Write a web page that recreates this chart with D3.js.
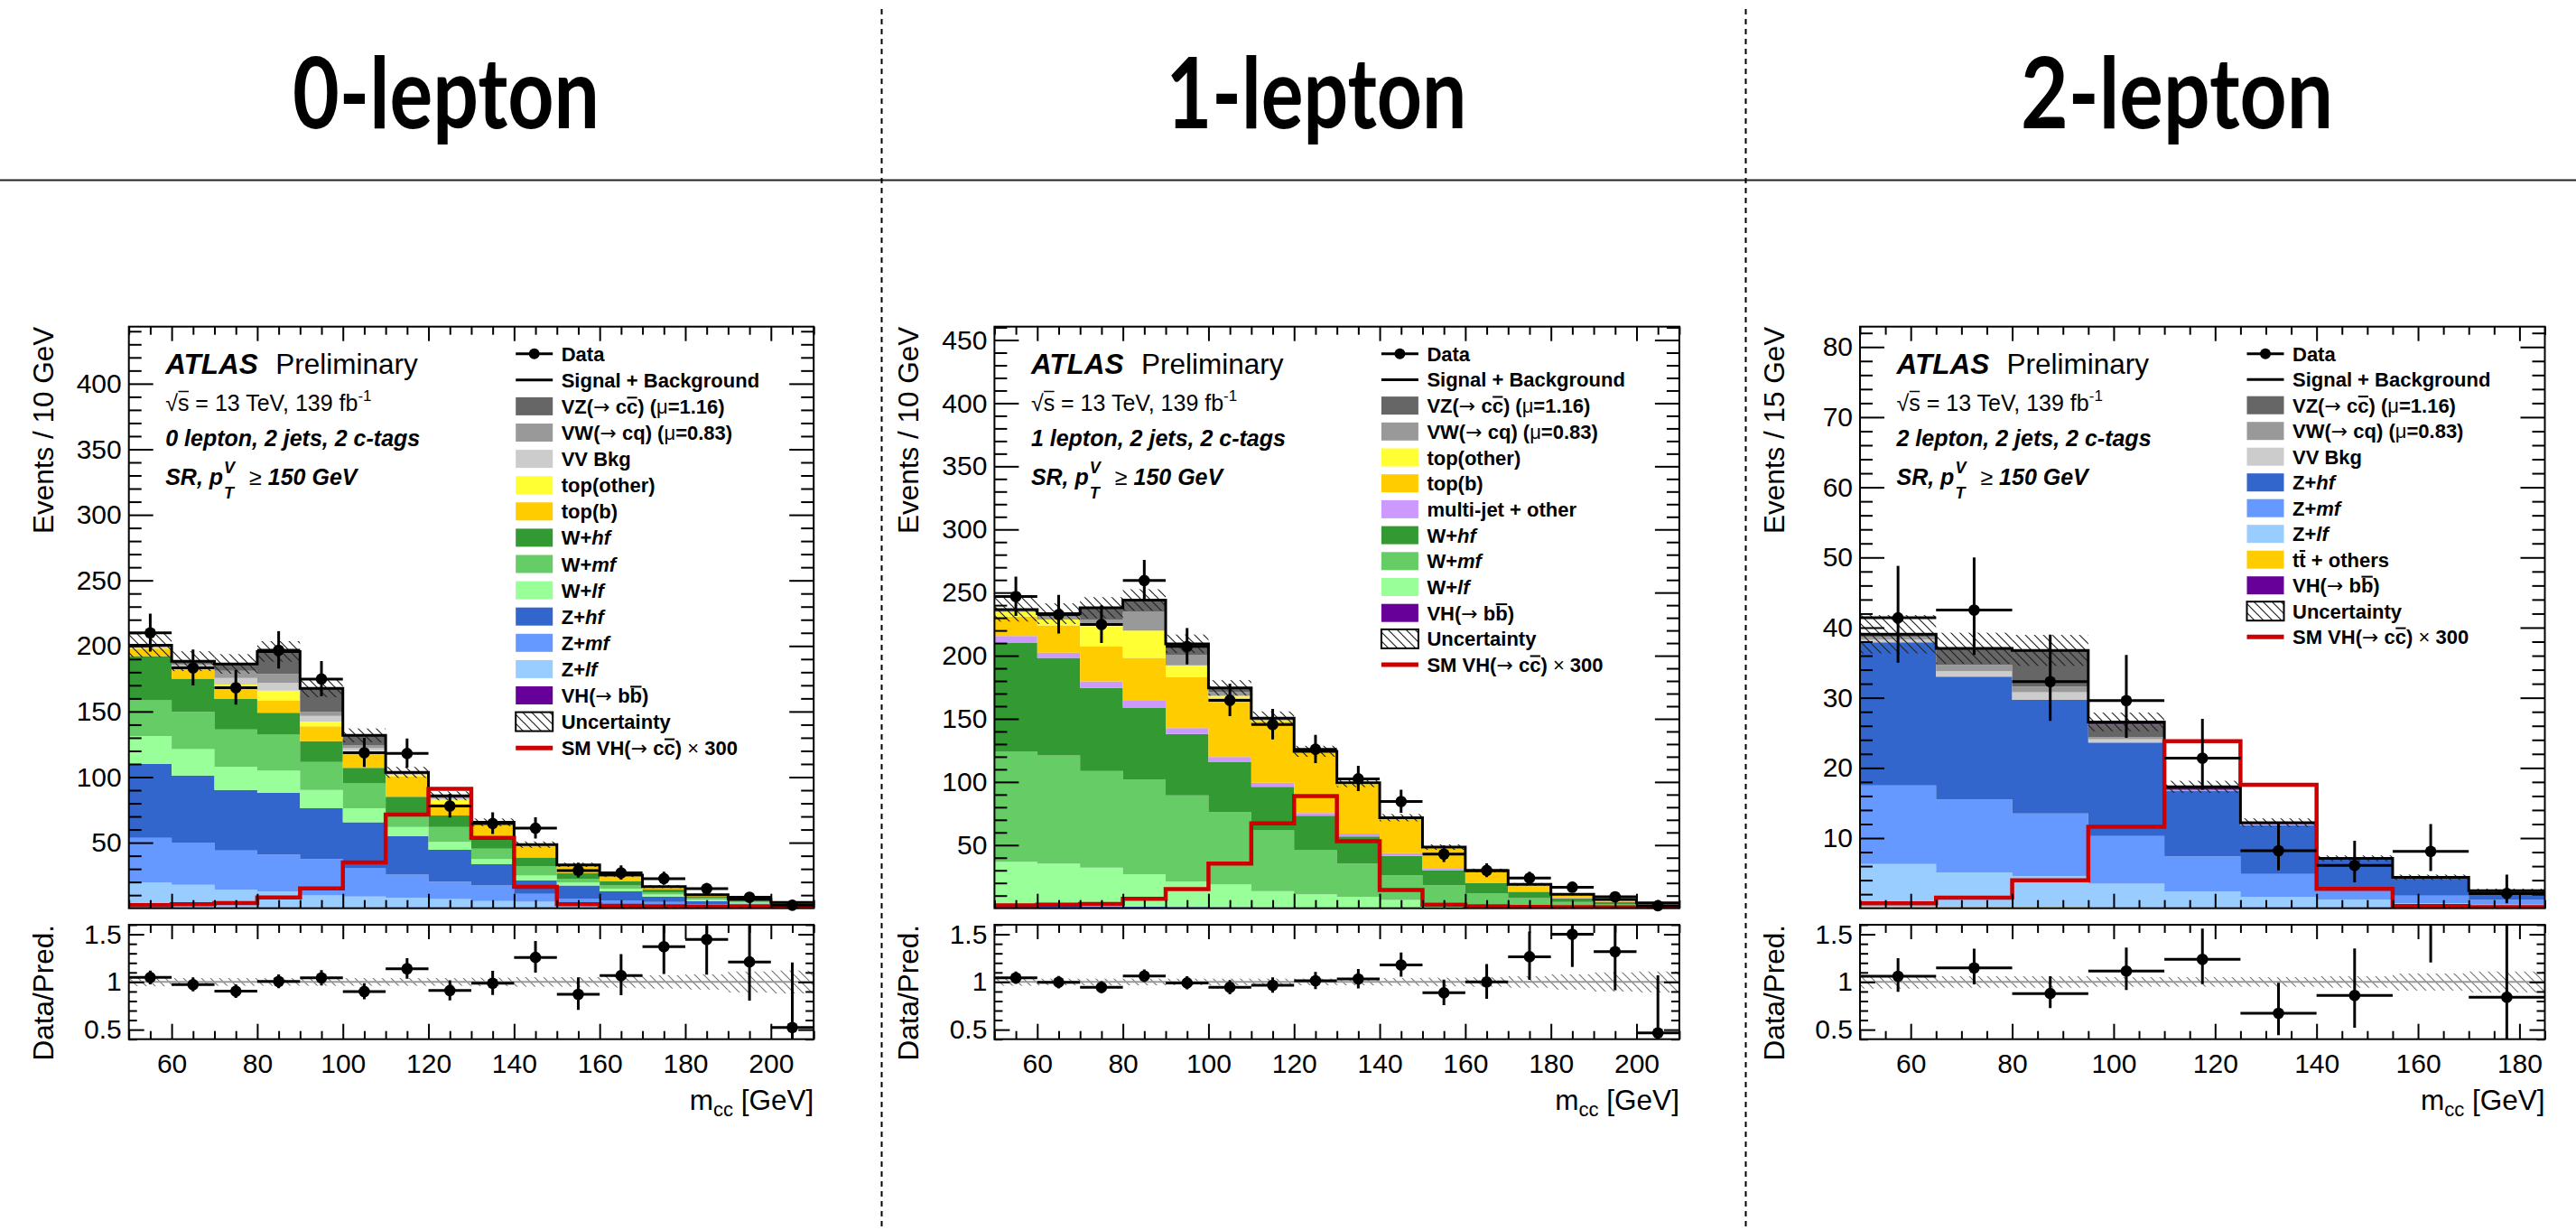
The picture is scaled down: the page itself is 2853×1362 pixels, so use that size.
<!DOCTYPE html>
<html>
<head>
<meta charset="utf-8">
<script src="https://cdn.jsdelivr.net/npm/d3@7"></script>
<style>
  html, body { margin: 0; padding: 0; background: #fff; }
  svg { display: block; }
</style>
</head>
<body>
<svg id="fig" width="2853" height="1362"></svg>
<script>
// ------------------------------------------------------------------
// Data: VH(->cc) m_cc distributions in the three lepton channels
// ------------------------------------------------------------------
const channelTitles = ["0-lepton", "1-lepton", "2-lepton"];
const yTitles = ["Events / 10 GeV", "Events / 10 GeV", "Events / 15 GeV"];
const regionLabels = ["0 lepton, 2 jets, 2 c-tags", "1 lepton, 2 jets, 2 c-tags", "2 lepton, 2 jets, 2 c-tags"];

// bin edges [GeV]
const edges0 = [50, 60, 70, 80, 90, 100, 110, 120, 130, 140, 150, 160, 170, 180, 190, 200, 210];
const edges1 = [50, 60, 70, 80, 90, 100, 110, 120, 130, 140, 150, 160, 170, 180, 190, 200, 210];
const edges2 = [50, 65, 80, 95, 110, 125, 140, 155, 170, 185];

// tick labels
const xTicks01 = [60, 80, 100, 120, 140, 160, 180, 200];
const xTicks2 = [60, 80, 100, 120, 140, 160, 180];
const yTicks0 = [50, 100, 150, 200, 250, 300, 350, 400];
const yTicks1 = [50, 100, 150, 200, 250, 300, 350, 400, 450];
const yTicks2 = [10, 20, 30, 40, 50, 60, 70, 80];
const ratioTicks = [0.5, 1, 1.5];

// ---- 0-lepton: background components (events per bin) ----
const zlf0   = [19.6, 17.9, 14.3, 12.8, 9.8, 9.0, 8.0, 7.0, 5.5, 4.9, 3.9, 3.0, 2.4, 1.5, 1.0, 0.6];
const zmf0   = [34.0, 32.1, 29.7, 28.2, 27.7, 21.7, 17.6, 13.2, 11.8, 6.0, 3.5, 3.0, 2.4, 1.5, 1.0, 0.6];
const zhf0   = [56.5, 51.2, 46.2, 47.1, 38.7, 34.8, 29.5, 24.4, 16.3, 10.5, 9.9, 6.8, 4.1, 2.5, 1.5, 1.0];
const wlf0   = [21.2, 20.2, 17.8, 16.9, 14.0, 10.7, 6.9, 6.0, 3.9, 3.5, 2.3, 2.1, 1.5, 1.0, 0.7, 0.5];
const wmf0   = [27.3, 28.3, 28.3, 27.4, 21.4, 19.0, 9.0, 11.3, 8.0, 7.2, 3.0, 2.4, 1.8, 1.2, 0.8, 0.5];
const whf0   = [33.7, 25.3, 23.2, 16.7, 15.8, 11.9, 14.1, 8.9, 7.5, 6.6, 4.2, 3.5, 2.0, 1.2, 1.0, 0.6];
const topb0  = [5.6, 8.0, 8.7, 9.5, 11.3, 11.4, 15.5, 9.0, 10.4, 8.9, 5.3, 3.5, 1.6, 0.9, 0.6, 0.4];
const topo0  = [0.4, 0.8, 2.3, 7.4, 3.6, 1.5, 1.0, 2.9, 0.9, 0.3, 0.3, 0.3, 0.2, 0.1, 0.1, 0.05];
const vv0    = [0.7, 1.5, 5.1, 6.0, 4.4, 2.0, 0.4, 0.9, 0.4, 0.2, 0.2, 0.2, 0.15, 0.1, 0.05, 0.05];
const vw0    = [0.6, 1.2, 5.4, 6.6, 3.0, 2.4, 0.4, 0.7, 0.3, 0.1, 0.2, 0.2, 0.15, 0.1, 0.05, 0.05];
const vz0    = [0.8, 1.7, 5.1, 17.0, 17.6, 7.0, 0.2, 0.6, 0.2, 0.1, 0.2, 0.2, 0.1, 0.1, 0.05, 0.05];
const vhbb0  = [0.1, 0.2, 0.2, 0.2, 0.3, 0.4, 1.0, 0.8, 0.3, 0.2, 0.1, 0.1, 0.1, 0.1, 0.05, 0.0];
const data0  = [210, 183.3, 168.2, 196.8, 174.8, 118.6, 118, 78, 64.6, 61, 28.8, 27.0, 22.6, 14.9, 8.35, 2.3];
const errUp0 = [14.6, 14.0, 13.5, 14.5, 13.7, 11.4, 11.4, 9.3, 8.5, 8.3, 5.9, 5.7, 5.3, 4.4, 3.4, 3.0];
const errDn0 = [14.3, 13.4, 12.9, 14.0, 13.2, 10.8, 10.8, 8.8, 8.0, 7.8, 5.4, 5.2, 4.7, 3.8, 2.8, 1.5];
const unc0   = [0.045, 0.04, 0.04, 0.04, 0.04, 0.04, 0.04, 0.04, 0.045, 0.05, 0.05, 0.06, 0.07, 0.08, 0.11, 0.12];
const sig0   = [2.4, 3.0, 3.9, 8.3, 15.2, 35.0, 71.4, 91.0, 53.6, 16.4, 3.0, 1.8, 1.5, 1.2, 1.0, 0.8];

// ---- 1-lepton ----
const zjets1 = [2.0, 1.8, 1.5, 1.3, 1.0, 0.8, 0.6, 0.5, 0.4, 0.3, 0.2, 0.1, 0.1, 0.05, 0.05, 0.05];
const wlf1   = [34.8, 33.5, 30.7, 25.6, 20.3, 18.1, 13.0, 10.6, 8.6, 6.2, 4.1, 2.7, 2.1, 1.45, 0.95, 0.55];
const wmf1   = [87.5, 85.7, 76.4, 74.9, 68.1, 57.5, 48.0, 34.9, 26.3, 19.5, 13.9, 9.2, 5.8, 3.5, 2.0, 1.3];
const whf1   = [85.7, 77.3, 65.9, 57.2, 48.6, 39.3, 34.6, 27.3, 21.6, 15.4, 11.8, 7.8, 4.7, 2.8, 1.8, 1.1];
const mj1    = [5.6, 4.0, 5.2, 5.2, 4.6, 4.0, 3.1, 2.2, 2.2, 2.2, 1.2, 0.6, 0.6, 0.4, 0.3, 0.2];
const topb1  = [15.4, 21.7, 27.8, 34.1, 40.2, 47.0, 48.9, 47.3, 38.9, 27.2, 16.4, 8.7, 4.9, 2.5, 1.5, 0.9];
const topo1  = [3.8, 4.6, 18.0, 21.6, 9.6, 1.6, 0.6, 0.4, 0.5, 0.3, 0.3, 0.3, 0.2, 0.15, 0.1, 0.1];
const vw1    = [1.0, 2.4, 3.1, 14.9, 8.3, 3.1, 0.8, 0.3, 0.3, 0.2, 0.2, 0.2, 0.2, 0.1, 0.1, 0.05];
const vz1    = [0.6, 2.2, 9.3, 9.2, 8.6, 2.8, 0.5, 0.3, 0.3, 0.2, 0.2, 0.2, 0.2, 0.1, 0.1, 0.05];
const vhbb1  = [0.1, 0.1, 0.1, 0.1, 0.1, 0.3, 0.5, 0.5, 0.3, 0.2, 0.1, 0.1, 0.1, 0.05, 0.0, 0.0];
const data1  = [246.9, 232.6, 224.7, 259.5, 207.3, 164.7, 145.5, 125.9, 102.5, 84.5, 42.9, 29.9, 23.9, 16.65, 9.1, 2.0];
const errUp1 = [15.8, 15.5, 15.2, 16.4, 14.6, 13.1, 12.3, 11.4, 10.3, 9.4, 6.7, 5.6, 5.0, 4.2, 3.4, 2.6];
const errDn1 = [15.4, 15.0, 14.7, 15.8, 14.2, 12.6, 11.8, 10.9, 9.8, 8.9, 6.3, 5.3, 4.6, 3.8, 2.8, 1.3];
const unc1   = [0.04, 0.035, 0.035, 0.035, 0.035, 0.035, 0.035, 0.035, 0.035, 0.04, 0.045, 0.05, 0.06, 0.08, 0.10, 0.11];
const sig1   = [2.2, 2.8, 3.4, 7.4, 15.2, 35.3, 67.2, 88.9, 53.0, 14.5, 2.8, 1.5, 1.0, 0.8, 0.6, 0.5];

// ---- 2-lepton ----
const tt2    = [0.15, 0.15, 0.15, 0.1, 0.05, 0.05, 0.05, 0.05, 0.02];
const zlf2   = [6.15, 4.95, 4.45, 3.4, 2.35, 1.55, 1.2, 0.65, 0.48];
const zmf2   = [11.2, 10.4, 8.9, 6.8, 5.0, 3.3, 1.65, 1.1, 0.7];
const zhf2   = [20.4, 17.5, 16.2, 13.3, 9.35, 6.9, 4.0, 2.5, 1.2];
const vv2    = [0.4, 0.8, 1.1, 0.5, 0.05, 0.1, 0.05, 0.03, 0.03];
const vw2    = [0.4, 0.9, 0.8, 0.3, 0.05, 0.05, 0.05, 0.03, 0.03];
const vz2    = [0.3, 2.3, 5.1, 1.8, 0.05, 0.05, 0.05, 0.03, 0.03];
const vhbb2  = [0.05, 0.05, 0.05, 0.35, 0.4, 0.2, 0.05, 0.01, 0.01];
const data2  = [41.4, 42.5, 32.3, 29.6, 21.4, 8.2, 6.1, 8.1, 2.1];
const errUp2 = [7.4, 7.5, 6.7, 6.5, 5.6, 3.9, 3.5, 3.9, 2.7];
const errDn2 = [6.4, 6.4, 5.6, 5.3, 4.5, 2.8, 2.4, 2.8, 1.4];
const unc2   = [0.07, 0.06, 0.06, 0.05, 0.05, 0.05, 0.06, 0.09, 0.11];
const sig2   = [0.7, 1.5, 4.0, 11.6, 23.8, 17.6, 2.75, 0.3, 0.15];

// ------------------------------------------------------------------
// Styles
// ------------------------------------------------------------------
const colors = {
  VZ: "#666666", VW: "#999999", VV: "#cccccc",
  topOther: "#ffff33", topB: "#ffcc00", ttbar: "#ffcc00",
  Whf: "#339933", Wmf: "#66cc66", Wlf: "#99ff99",
  Zhf: "#3366cc", Zmf: "#6699ff", Zlf: "#99ccff", Zjets: "#3366cc",
  multijet: "#cc99ff", VHbb: "#660099", signal: "#cc0000"
};
const FONT = "'Liberation Sans', Arial, Helvetica, sans-serif";
const SYMBOL_FONT = "'DejaVu Sans', 'Liberation Sans', sans-serif";

// legend labels: [text, style]  style: b=bold (default), i=bold italic, n=normal, a=arrow, o=bold with bar
const lbl = {
  data: [["Data"]],
  sb: [["Signal + Background"]],
  VZ: [["VZ("], ["\u2192", "a"], [" c"], ["c", "o"], [") ("], ["\u03bc", "n"], ["=1.16)"]],
  VW: [["VW("], ["\u2192", "a"], [" cq) ("], ["\u03bc", "n"], ["=0.83)"]],
  VV: [["VV Bkg"]],
  topOther: [["top(other)"]],
  topB: [["top(b)"]],
  multijet: [["multi-jet + other"]],
  Whf: [["W+"], ["hf", "i"]],
  Wmf: [["W+"], ["mf", "i"]],
  Wlf: [["W+"], ["lf", "i"]],
  Zhf: [["Z+"], ["hf", "i"]],
  Zmf: [["Z+"], ["mf", "i"]],
  Zlf: [["Z+"], ["lf", "i"]],
  ttbar: [["t"], ["t", "o"], [" + others"]],
  VHbb: [["VH("], ["\u2192", "a"], [" b"], ["b", "o"], [")"]],
  unc: [["Uncertainty"]],
  sig: [["SM VH("], ["\u2192", "a"], [" c"], ["c", "o"], [") "], ["\u00d7", "n"], [" 300"]]
};

// ------------------------------------------------------------------
// Layout
// ------------------------------------------------------------------
const TOP = 361.7, MAIN_BOTTOM = 1005.7, RATIO_TOP = 1024, RATIO_BOTTOM = 1150.7;
const PANEL_W = 758.5;

const panels = [
  {
    left: 142.7, edges: edges0, yMax: 443.5, yTicks: yTicks0, yMinorStep: 10, xTicks: xTicks01,
    order: ["Zlf", "Zmf", "Zhf", "Wlf", "Wmf", "Whf", "topB", "topOther", "VV", "VW", "VZ", "VHbb"],
    series: { Zlf: zlf0, Zmf: zmf0, Zhf: zhf0, Wlf: wlf0, Wmf: wmf0, Whf: whf0, topB: topb0, topOther: topo0, VV: vv0, VW: vw0, VZ: vz0, VHbb: vhbb0 },
    data: data0, up: errUp0, dn: errDn0, unc: unc0, sig: sig0,
    legend: ["data", "sb", "VZ", "VW", "VV", "topOther", "topB", "Whf", "Wmf", "Wlf", "Zhf", "Zmf", "Zlf", "VHbb", "unc", "sig"],
    legendStep: 29.1
  },
  {
    left: 1101.4, edges: edges1, yMax: 460.6, yTicks: yTicks1, yMinorStep: 10, xTicks: xTicks01,
    order: ["Zjets", "Wlf", "Wmf", "Whf", "multijet", "topB", "topOther", "VW", "VZ", "VHbb"],
    series: { Zjets: zjets1, Wlf: wlf1, Wmf: wmf1, Whf: whf1, multijet: mj1, topB: topb1, topOther: topo1, VW: vw1, VZ: vz1, VHbb: vhbb1 },
    data: data1, up: errUp1, dn: errDn1, unc: unc1, sig: sig1,
    legend: ["data", "sb", "VZ", "VW", "topOther", "topB", "multijet", "Whf", "Wmf", "Wlf", "VHbb", "unc", "sig"],
    legendStep: 28.7
  },
  {
    left: 2060.0, edges: edges2, yMax: 82.9, yTicks: yTicks2, yMinorStep: 2, xTicks: xTicks2,
    order: ["ttbar", "Zlf", "Zmf", "Zhf", "VV", "VW", "VZ", "VHbb"],
    series: { ttbar: tt2, Zlf: zlf2, Zmf: zmf2, Zhf: zhf2, VV: vv2, VW: vw2, VZ: vz2, VHbb: vhbb2 },
    data: data2, up: errUp2, dn: errDn2, unc: unc2, sig: sig2,
    legend: ["data", "sb", "VZ", "VW", "VV", "Zhf", "Zmf", "Zlf", "ttbar", "VHbb", "unc", "sig"],
    legendStep: 28.5
  }
];

// ------------------------------------------------------------------
// Drawing
// ------------------------------------------------------------------
const svg = d3.select("#fig");
svg.append("rect").attr("width", 2853).attr("height", 1362).attr("fill", "#fff");
const defs = svg.append("defs");

function hatch(id, color, sw) {
  const p = defs.append("pattern").attr("id", id)
    .attr("patternUnits", "userSpaceOnUse").attr("width", 10).attr("height", 10);
  p.append("path").attr("d", "M-5,5 L5,15 M0,0 L10,10 M5,-5 L15,5")
    .attr("stroke", color).attr("stroke-width", sw).attr("fill", "none");
}
hatch("hatchMain", "#222", 1.2);
hatch("hatchRatio", "#777", 1.2);

// channel headers
const headerX = [494, 1458, 2411];
const headerW = [340, 333, 346];
svg.selectAll("text.hdr").data(channelTitles).join("text")
  .attr("class", "hdr")
  .attr("x", (d, i) => headerX[i]).attr("y", 142)
  .attr("text-anchor", "middle")
  .attr("font-family", "Lato, 'Noto Sans', sans-serif")
  .attr("font-weight", "bold")
  .attr("font-size", 110)
  .attr("textLength", (d, i) => headerW[i])
  .attr("lengthAdjust", "spacingAndGlyphs")
  .attr("fill", "#000")
  .text(d => d);

svg.append("line").attr("x1", 0).attr("x2", 2853).attr("y1", 199.5).attr("y2", 199.5)
  .attr("stroke", "#222").attr("stroke-width", 2);
[976.5, 1933.5].forEach(xx => {
  svg.append("line").attr("x1", xx).attr("x2", xx).attr("y1", 10).attr("y2", 1362)
    .attr("stroke", "#000").attr("stroke-width", 2).attr("stroke-dasharray", "6,5");
});

function stepPoints(edges, vals) {
  const pts = [];
  vals.forEach((v, i) => { pts.push([edges[i], v]); pts.push([edges[i + 1], v]); });
  return pts;
}

function styleAxis(g, labelSize) {
  g.attr("font-family", FONT).attr("font-size", labelSize || 30);
  g.select(".domain").remove();
  g.selectAll("line").attr("stroke", "#000").attr("stroke-width", 2);
  g.selectAll("text").attr("fill", "#000");
}

// bar drawn over a run of characters inside a text element
function overbar(parent, tspan, fs, lift, sw) {
  const n = tspan.node();
  const k = n.getNumberOfChars();
  if (!k) return;
  const a = n.getStartPositionOfChar(0), b = n.getEndPositionOfChar(k - 1);
  parent.append("line").attr("x1", a.x + 0.5).attr("x2", b.x - 0.5)
    .attr("y1", a.y - fs * lift).attr("y2", a.y - fs * lift)
    .attr("stroke", "#000").attr("stroke-width", sw);
}

function richText(parent, sel, parts, fs) {
  const bars = [];
  parts.forEach(([t, s]) => {
    const ts = sel.append("tspan").text(t);
    if (s === "n") ts.attr("font-weight", "normal");
    if (s === "a") ts.attr("font-weight", "normal").attr("font-family", SYMBOL_FONT);
    if (s === "i") ts.attr("font-style", "italic");
    if (s === "o") bars.push(ts);
  });
  bars.forEach(ts => overbar(parent, ts, fs, 0.8, 2));
}

panels.forEach((p, pi) => {
  const L = p.left, R = p.left + PANEL_W;
  const nb = p.edges.length - 1;
  const x = d3.scaleLinear().domain([p.edges[0], p.edges[nb]]).range([L, R]);
  const y = d3.scaleLinear().domain([0, p.yMax]).range([MAIN_BOTTOM, TOP]);
  const yr = d3.scaleLinear().domain([0.4, 1.6]).range([RATIO_BOTTOM, RATIO_TOP]);
  const g = svg.append("g");

  // clip regions
  defs.append("clipPath").attr("id", "cm" + pi).append("rect")
    .attr("x", L).attr("y", TOP).attr("width", PANEL_W).attr("height", MAIN_BOTTOM - TOP);
  defs.append("clipPath").attr("id", "cr" + pi).append("rect")
    .attr("x", L).attr("y", RATIO_TOP).attr("width", PANEL_W).attr("height", RATIO_BOTTOM - RATIO_TOP);

  // stacked backgrounds
  const rows = p.data.map((_, i) => {
    const r = {};
    p.order.forEach(k => { r[k] = p.series[k][i]; });
    return r;
  });
  const stacked = d3.stack().keys(p.order)(rows);
  const total = stacked[stacked.length - 1].map(d => d[1]);

  const gm = g.append("g").attr("clip-path", `url(#cm${pi})`);
  const area = d3.area().x(d => x(d.x)).y0(d => y(d.y0)).y1(d => y(d.y1));
  stacked.forEach(s => {
    const pts = [];
    s.forEach((d, i) => {
      pts.push({ x: p.edges[i], y0: d[0], y1: d[1] });
      pts.push({ x: p.edges[i + 1], y0: d[0], y1: d[1] });
    });
    gm.append("path").attr("d", area(pts)).attr("fill", colors[s.key]).attr("stroke", "none");
  });

  // uncertainty band
  gm.selectAll("rect.unc").data(total).join("rect")
    .attr("x", (d, i) => x(p.edges[i])).attr("width", (d, i) => x(p.edges[i + 1]) - x(p.edges[i]))
    .attr("y", (d, i) => y(d * (1 + p.unc[i])))
    .attr("height", (d, i) => y(d * (1 - p.unc[i])) - y(d * (1 + p.unc[i])))
    .attr("fill", "url(#hatchMain)");

  const line = d3.line().x(d => x(d[0])).y(d => y(d[1]));
  gm.append("path").attr("d", line(stepPoints(p.edges, total)))
    .attr("fill", "none").attr("stroke", "#000").attr("stroke-width", 3);
  gm.append("path").attr("d", line(stepPoints(p.edges, p.sig)))
    .attr("fill", "none").attr("stroke", colors.signal).attr("stroke-width", 4.5);

  // data points
  const mids = p.data.map((_, i) => (p.edges[i] + p.edges[i + 1]) / 2);
  p.data.forEach((v, i) => {
    gm.append("line").attr("x1", x(mids[i])).attr("x2", x(mids[i]))
      .attr("y1", y(v + p.up[i])).attr("y2", y(Math.max(v - p.dn[i], 0)))
      .attr("stroke", "#000").attr("stroke-width", 3);
    gm.append("line").attr("x1", x(p.edges[i])).attr("x2", x(p.edges[i + 1]))
      .attr("y1", y(v)).attr("y2", y(v)).attr("stroke", "#000").attr("stroke-width", 3);
  });
  g.selectAll("circle.dm").data(p.data).join("circle")
    .attr("cx", (d, i) => x(mids[i])).attr("cy", d => y(d)).attr("r", 6.3).attr("fill", "#000");

  // ratio panel
  const gr = g.append("g").attr("clip-path", `url(#cr${pi})`);
  gr.selectAll("rect.runc").data(p.unc).join("rect")
    .attr("x", (d, i) => x(p.edges[i])).attr("width", (d, i) => x(p.edges[i + 1]) - x(p.edges[i]))
    .attr("y", d => yr(1 + d)).attr("height", d => yr(1 - d) - yr(1 + d))
    .attr("fill", "url(#hatchRatio)");
  gr.append("line").attr("x1", L).attr("x2", R).attr("y1", yr(1)).attr("y2", yr(1))
    .attr("stroke", "#999").attr("stroke-width", 2);
  const ratio = p.data.map((v, i) => v / total[i]);
  ratio.forEach((r, i) => {
    gr.append("line").attr("x1", x(mids[i])).attr("x2", x(mids[i]))
      .attr("y1", yr((p.data[i] + p.up[i]) / total[i]))
      .attr("y2", yr(Math.max(p.data[i] - p.dn[i], 0) / total[i]))
      .attr("stroke", "#000").attr("stroke-width", 3);
    gr.append("line").attr("x1", x(p.edges[i])).attr("x2", x(p.edges[i + 1]))
      .attr("y1", yr(r)).attr("y2", yr(r)).attr("stroke", "#000").attr("stroke-width", 3);
  });
  g.selectAll("circle.rm").data(ratio.map((r, i) => ({ r, i })).filter(d => d.r >= 0.4 && d.r <= 1.6)).join("circle")
    .attr("cx", d => x(mids[d.i])).attr("cy", d => yr(d.r)).attr("r", 6.3).attr("fill", "#000");

  // frames
  g.append("rect").attr("x", L).attr("y", TOP).attr("width", PANEL_W).attr("height", MAIN_BOTTOM - TOP)
    .attr("fill", "none").attr("stroke", "#000").attr("stroke-width", 2);
  g.append("rect").attr("x", L).attr("y", RATIO_TOP).attr("width", PANEL_W).attr("height", RATIO_BOTTOM - RATIO_TOP)
    .attr("fill", "none").attr("stroke", "#000").attr("stroke-width", 2);

  // axes: main y
  const yMinors = d3.range(p.yMinorStep, p.yMax, p.yMinorStep).filter(v => !p.yTicks.includes(v));
  styleAxis(g.append("g").attr("transform", `translate(${L},0)`)
    .call(d3.axisLeft(y).tickValues(p.yTicks).tickSizeInner(-27).tickSizeOuter(0).tickPadding(8).tickFormat(d => d)));
  styleAxis(g.append("g").attr("transform", `translate(${L},0)`)
    .call(d3.axisLeft(y).tickValues(yMinors).tickSizeInner(-14).tickSizeOuter(0).tickFormat("")));
  styleAxis(g.append("g").attr("transform", `translate(${R},0)`)
    .call(d3.axisRight(y).tickValues(p.yTicks).tickSizeInner(-27).tickSizeOuter(0).tickFormat("")));
  styleAxis(g.append("g").attr("transform", `translate(${R},0)`)
    .call(d3.axisRight(y).tickValues(yMinors).tickSizeInner(-14).tickSizeOuter(0).tickFormat("")));

  // x ticks (main + ratio)
  const xMinors = d3.range(p.edges[0], p.edges[nb] + 0.1, 5).filter(v => !p.xTicks.includes(v));
  [[MAIN_BOTTOM, d3.axisBottom], [TOP, d3.axisTop], [RATIO_TOP, d3.axisTop]].forEach(([yy, ax]) => {
    styleAxis(g.append("g").attr("transform", `translate(0,${yy})`)
      .call(ax(x).tickValues(p.xTicks).tickSizeInner(-16).tickSizeOuter(0).tickFormat("")));
    styleAxis(g.append("g").attr("transform", `translate(0,${yy})`)
      .call(ax(x).tickValues(xMinors).tickSizeInner(-9).tickSizeOuter(0).tickFormat("")));
  });
  styleAxis(g.append("g").attr("transform", `translate(0,${RATIO_BOTTOM})`)
    .call(d3.axisBottom(x).tickValues(p.xTicks).tickSizeInner(-17).tickSizeOuter(0).tickPadding(16).tickFormat(d => d)));
  styleAxis(g.append("g").attr("transform", `translate(0,${RATIO_BOTTOM})`)
    .call(d3.axisBottom(x).tickValues(xMinors).tickSizeInner(-9).tickSizeOuter(0).tickFormat("")));

  // ratio y
  const rMinors = d3.range(4, 17).map(v => v / 10).filter(v => !ratioTicks.includes(v));
  styleAxis(g.append("g").attr("transform", `translate(${L},0)`)
    .call(d3.axisLeft(yr).tickValues(ratioTicks).tickSizeInner(-17).tickSizeOuter(0).tickPadding(8).tickFormat(d => String(d))));
  styleAxis(g.append("g").attr("transform", `translate(${L},0)`)
    .call(d3.axisLeft(yr).tickValues(rMinors).tickSizeInner(-9).tickSizeOuter(0).tickFormat("")));
  styleAxis(g.append("g").attr("transform", `translate(${R},0)`)
    .call(d3.axisRight(yr).tickValues(ratioTicks).tickSizeInner(-17).tickSizeOuter(0).tickFormat("")));
  styleAxis(g.append("g").attr("transform", `translate(${R},0)`)
    .call(d3.axisRight(yr).tickValues(rMinors).tickSizeInner(-9).tickSizeOuter(0).tickFormat("")));

  // axis titles
  g.append("text").attr("transform", `translate(${L - 84},${TOP}) rotate(-90)`)
    .attr("text-anchor", "end").attr("font-family", FONT).attr("font-size", 31.5).text(yTitles[pi]);
  g.append("text").attr("transform", `translate(${L - 84},${RATIO_TOP}) rotate(-90)`)
    .attr("text-anchor", "end").attr("font-family", FONT).attr("font-size", 31.5).text("Data/Pred.");
  const xt = g.append("text").attr("x", R).attr("y", 1229).attr("text-anchor", "end")
    .attr("font-family", FONT).attr("font-size", 31.5);
  xt.append("tspan").text("m");
  xt.append("tspan").attr("font-size", 22).attr("dy", 7).text("cc");
  xt.append("tspan").attr("dy", -7).text(" [GeV]");

  // ATLAS label block
  const tx = L + 40.5;
  g.append("text").attr("x", tx).attr("y", 414).attr("font-family", FONT).attr("font-size", 31.5)
    .attr("font-weight", "bold").attr("font-style", "italic").text("ATLAS");
  g.append("text").attr("x", L + 162.5).attr("y", 414).attr("font-family", FONT).attr("font-size", 31.5)
    .text("Preliminary");
  const en = g.append("text").attr("x", tx).attr("y", 455).attr("font-family", FONT).attr("font-size", 25);
  en.append("tspan").text("\u221a");
  const sTs = en.append("tspan").text("s");
  en.append("tspan").text(" = 13 TeV, 139 fb");
  en.append("tspan").attr("font-size", 17).attr("dy", -11).text("-1");
  overbar(g, sTs, 25, 0.86, 1.5);
  g.append("text").attr("x", tx).attr("y", 494).attr("font-family", FONT).attr("font-size", 25)
    .attr("font-weight", "bold").attr("font-style", "italic").text(regionLabels[pi]);
  const sr = g.append("text").attr("x", tx).attr("y", 537).attr("font-family", FONT).attr("font-size", 25)
    .attr("font-weight", "bold").attr("font-style", "italic").text("SR, p");
  const srw = sr.node().getComputedTextLength();
  g.append("text").attr("x", tx + srw + 1).attr("y", 524).attr("font-family", FONT).attr("font-size", 18)
    .attr("font-weight", "bold").attr("font-style", "italic").text("V");
  g.append("text").attr("x", tx + srw + 1).attr("y", 552).attr("font-family", FONT).attr("font-size", 18)
    .attr("font-weight", "bold").attr("font-style", "italic").text("T");
  const ge = g.append("text").attr("x", tx + srw + 29).attr("y", 537).attr("font-family", FONT).attr("font-size", 25)
    .attr("font-weight", "bold").attr("font-style", "italic");
  ge.append("tspan").attr("font-weight", "normal").attr("font-style", "normal").text("\u2265");
  ge.append("tspan").text(" 150 GeV");

  // legend
  const sx = L + 428.5, sw = 41, txl = L + 479;
  p.legend.forEach((key, i) => {
    const cy = 391.7 + i * p.legendStep;
    if (key === "data") {
      g.append("line").attr("x1", sx).attr("x2", sx + sw).attr("y1", cy).attr("y2", cy)
        .attr("stroke", "#000").attr("stroke-width", 3);
      g.append("circle").attr("cx", sx + sw / 2).attr("cy", cy).attr("r", 6).attr("fill", "#000");
    } else if (key === "sb") {
      g.append("line").attr("x1", sx).attr("x2", sx + sw).attr("y1", cy).attr("y2", cy)
        .attr("stroke", "#000").attr("stroke-width", 3);
    } else if (key === "sig") {
      g.append("line").attr("x1", sx).attr("x2", sx + sw).attr("y1", cy).attr("y2", cy)
        .attr("stroke", colors.signal).attr("stroke-width", 5);
    } else if (key === "unc") {
      g.append("rect").attr("x", sx).attr("y", cy - 10.5).attr("width", sw).attr("height", 21)
        .attr("fill", "url(#hatchMain)").attr("stroke", "#000").attr("stroke-width", 2);
    } else {
      g.append("rect").attr("x", sx).attr("y", cy - 10).attr("width", sw).attr("height", 20)
        .attr("fill", colors[key]);
    }
    const t = g.append("text").attr("x", txl).attr("y", cy + 8).attr("font-family", FONT)
      .attr("font-size", 22).attr("font-weight", "bold").attr("fill", "#000");
    richText(g, t, lbl[key], 22);
  });
});
</script>
</body>
</html>
